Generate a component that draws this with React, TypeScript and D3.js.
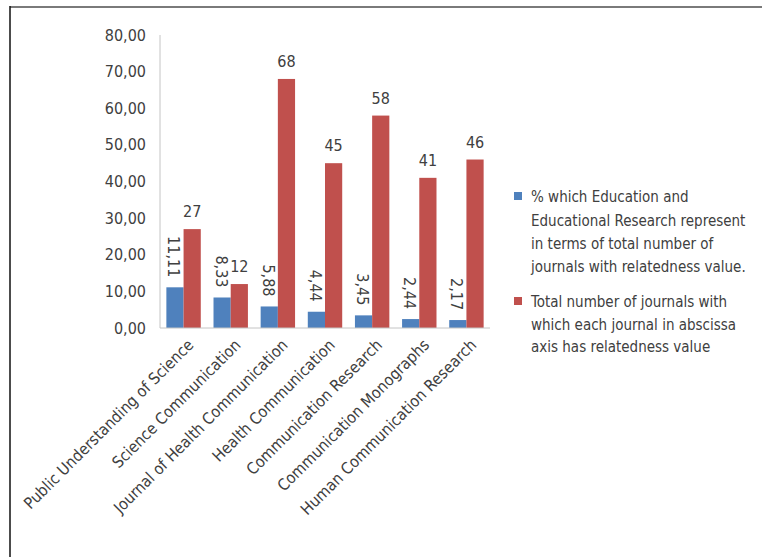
import { scaleBand, scaleLinear, format } from 'd3'

const journals = [
  'Public Understanding of Science',
  'Science Communication',
  'Journal of Health Communication',
  'Health Communication',
  'Communication Research',
  'Communication Monographs',
  'Human Communication Research',
]
const eduShare = [11.11, 8.33, 5.88, 4.44, 3.45, 2.44, 2.17]
const totalJournals = [27, 12, 68, 45, 58, 41, 46]
const yTicks = [0, 10, 20, 30, 40, 50, 60, 70, 80]
const legendBlue = [
  '% which Education and',
  'Educational Research represent',
  'in terms of total number of',
  'journals with relatedness value.',
]
const legendRed = [
  'Total number of journals with',
  'which each journal in abscissa',
  'axis has relatedness value',
]

const W = 762
const H = 559
const PLOT = { left: 160, right: 490, top: 35, bottom: 328 }
const BLUE = '#4F81BD'
const RED = '#C0504D'
const TEXT = '#404040'
const FONT = '"Liberation Sans Narrow", "DejaVu Sans Condensed", "Liberation Sans", Arial, sans-serif'

const comma2 = (v: number) => format('.2f')(v).replace('.', ',')

export default function App() {
  const x = scaleBand<string>().domain(journals).range([PLOT.left, PLOT.right])
  const y = scaleLinear().domain([0, 80]).range([PLOT.bottom, PLOT.top])
  const inner = scaleBand<string>()
    .domain(['blue', 'red'])
    .range([0, x.bandwidth()])
    .paddingInner(0)
    .paddingOuter(0.37)

  return (
    <svg
      width={W}
      height={H}
      viewBox={`0 0 ${W} ${H}`}
      style={{ position: 'absolute', left: 0, top: 0, background: '#fff', fontFamily: FONT }}
    >
      <rect x={0} y={0} width={W} height={H} fill="#fff" />
      {/* frame */}
      <line x1={10} x2={W} y1={7} y2={7} stroke="#7a7a7a" strokeWidth={2} />
      <line x1={10} x2={10} y1={6} y2={557} stroke="#111" strokeWidth={1.5} />

      {/* y axis */}
      <line x1={PLOT.left} x2={PLOT.left} y1={PLOT.top} y2={PLOT.bottom} stroke="#c4c4c4" />
      {yTicks.map((t) => (
        <text
          key={t}
          x={146}
          y={y(t)}
          dy="0.35em"
          textAnchor="end"
          fontSize={16}
          fill={TEXT}
        >
          {comma2(t)}
        </text>
      ))}

      {/* bars */}
      {journals.map((j, i) => {
        const x0 = x(j) ?? 0
        const bx = x0 + (inner('blue') ?? 0)
        const rx = x0 + (inner('red') ?? 0)
        const bw = inner.bandwidth()
        return (
          <g key={j}>
            <rect x={bx} y={y(eduShare[i])} width={bw} height={PLOT.bottom - y(eduShare[i])} fill={BLUE} />
            <rect x={rx} y={y(totalJournals[i])} width={bw} height={PLOT.bottom - y(totalJournals[i])} fill={RED} />
            <text
              transform={`translate(${bx + bw / 2 - 1},${y(eduShare[i]) - 10}) rotate(90)`}
              textAnchor="end"
              dy="0.35em"
              fontSize={16}
              fill={TEXT}
            >
              {comma2(eduShare[i])}
            </text>
            <text x={rx + bw / 2} y={y(totalJournals[i]) - 12} textAnchor="middle" fontSize={16} fill={TEXT}>
              {totalJournals[i]}
            </text>
            <text
              transform={`translate(${x0 + x.bandwidth() / 2 + 7},${PLOT.bottom + 14}) rotate(-45)`}
              textAnchor="end"
              dy="0.35em"
              fontSize={16}
              fill={TEXT}
            >
              {j}
            </text>
          </g>
        )
      })}

      {/* x axis */}
      <line x1={PLOT.left} x2={PLOT.right} y1={PLOT.bottom} y2={PLOT.bottom} stroke="#c4c4c4" />

      {/* legend */}
      <rect x={514} y={192} width={8} height={8} fill={BLUE} />
      {legendBlue.map((l, i) => (
        <text key={l} x={531} y={197 + i * 23.3} dy="0.35em" fontSize={15} fill={TEXT}>
          {l}
        </text>
      ))}
      <rect x={514} y={297} width={8} height={8} fill={RED} />
      {legendRed.map((l, i) => (
        <text key={l} x={531} y={302 + i * 22.5} dy="0.35em" fontSize={15} fill={TEXT}>
          {l}
        </text>
      ))}
    </svg>
  )
}
